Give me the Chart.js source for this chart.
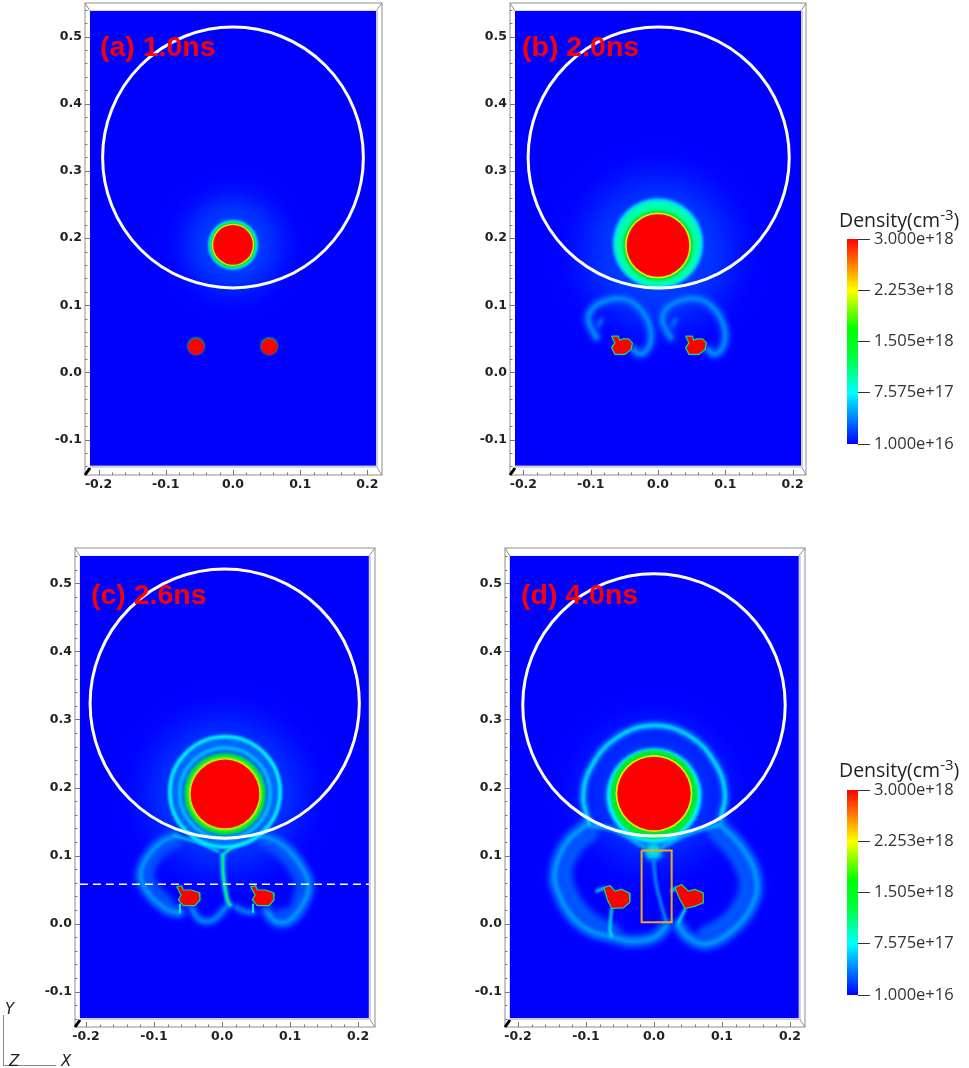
<!DOCTYPE html>
<html>
<head>
<meta charset="utf-8">
<style>
  body { margin: 0; background: #fff; }
  canvas { position: absolute; }
  .tag { position: absolute; color: #f00; font: bold 28.5px "Liberation Sans", sans-serif; white-space: nowrap; opacity: .97; }
  .cbt { position: absolute; left: 839px; color: #222; font: 19.5px "Open Sans", sans-serif; white-space: nowrap; }
  .cbt sup { font-size: 15px; line-height: 0; }
  .tri { position: absolute; color: #222; font: italic 15px "DejaVu Sans", sans-serif; }
</style>
</head>
<body>
<canvas id="panelA"></canvas>
<canvas id="panelB"></canvas>
<canvas id="panelC"></canvas>
<canvas id="panelD"></canvas>
<canvas id="barTop"></canvas>
<canvas id="barBottom"></canvas>
<div class="tag" style="left:100px;top:30px">(a) 1.0ns</div>
<div class="tag" style="left:522px;top:30px">(b) 2.0ns</div>
<div class="tag" style="left:91px;top:578px">(c) 2.6ns</div>
<div class="tag" style="left:521px;top:578px">(d) 4.0ns</div>
<div class="cbt" style="top:206px">Density(cm<sup>-3</sup>)</div>
<div class="cbt" style="top:756px">Density(cm<sup>-3</sup>)</div>
<div style="position:absolute;left:3px;top:1015px;width:52px;height:50px;border-left:1px solid #888;border-bottom:1px solid #888"></div>
<div class="tri" style="left:5px;top:1000px">Y</div>
<div class="tri" style="left:9px;top:1052px">Z</div>
<div class="tri" style="left:61px;top:1052px">X</div>

<script src="https://cdn.jsdelivr.net/npm/chart.js@4"></script>
<script>
// axis ticks
const xTicks = [-0.2, -0.1, 0, 0.1, 0.2];
const yTicks = [-0.1, 0, 0.1, 0.2, 0.3, 0.4, 0.5];

// colorbar
const barValues = [3.0e18, 2.253e18, 1.505e18, 7.575e17, 1.0e16];
const barLabels = ['3.000e+18', '2.253e+18', '1.505e+18', '7.575e+17', '1.000e+16'];

// white circles, in axis units
const circleA = [{ x: 0, y: 0.32, r: 0.194 }];
const circleB = [{ x: 0.001, y: 0.32, r: 0.194 }];
const circleC = [{ x: 0.004, y: 0.3235, r: 0.198 }];
const circleD = [{ x: 0, y: 0.3215, r: 0.193 }];

// (a) 1.0ns
const haloA = [{ x: 0, y: 0.19, r: 0.07 }];
const coreA = [{ x: 0, y: 0.19, r: 0.0295 }, { x: -0.055, y: 0.038, r: 0.012 }, { x: 0.054, y: 0.038, r: 0.012 }];
const greenA = [{ x: 0, y: 0.19, r: 0.0345 }, { x: -0.055, y: 0.039, r: 0.0125 }, { x: 0.054, y: 0.039, r: 0.0125 }];
const yellowA = [{ x: 0, y: 0.19, r: 0.0315 }];
const cyanA = [{ x: 0, y: 0.19, r: 0.037 }];

// (b) 2.0ns
const haloB = [{ x: 0, y: 0.18, r: 0.11 }];
const shellB = [{ x: 0, y: 0.192, r: 0.067 }];
const turquoiseB = [{ x: 0, y: 0.191, r: 0.063 }];
const greenB = [{ x: 0, y: 0.189, r: 0.0525 }];
const yellowB = [{ x: 0, y: 0.189, r: 0.049 }];
const coreB = [{ x: 0, y: 0.189, r: 0.0465 }];
const blobB1 = [[-0.069, 0.054], [-0.059, 0.054], [-0.057, 0.048], [-0.052, 0.05], [-0.044, 0.05], [-0.038, 0.044], [-0.04, 0.034], [-0.044, 0.031], [-0.049, 0.027], [-0.064, 0.027], [-0.069, 0.037], [-0.064, 0.044], [-0.069, 0.054]];
const blobB2 = [[0.041, 0.054], [0.051, 0.054], [0.053, 0.048], [0.058, 0.05], [0.066, 0.05], [0.072, 0.044], [0.07, 0.034], [0.066, 0.031], [0.061, 0.027], [0.046, 0.027], [0.041, 0.037], [0.046, 0.044], [0.041, 0.054]];
const wingB1 = [[-0.0912, 0.0516], [-0.1036, 0.0789], [-0.0962, 0.0962], [-0.0764, 0.1072], [-0.0516, 0.1096], [-0.0292, 0.0977], [-0.0129, 0.0714], [-0.0109, 0.0467], [-0.0193, 0.0303], [-0.0292, 0.0278], [-0.0357, 0.0342]];
const wingB2 = [[0.0188, 0.0516], [0.0064, 0.0789], [0.0138, 0.0962], [0.0336, 0.1072], [0.0584, 0.1096], [0.0808, 0.0977], [0.0971, 0.0714], [0.0991, 0.0467], [0.0907, 0.0303], [0.0808, 0.0278], [0.0743, 0.0342]];
const flickB1 = [[-0.0888, 0.069], [-0.0838, 0.0789]];
const flickB2 = [[0.0212, 0.069], [0.0262, 0.0789]];

// (c) 2.6ns
const haloC = [{ x: 0.004, y: 0.19, r: 0.11 }];
const fillC = [{ x: 0.0044, y: 0.1935, r: 0.079 }];
const ringOuterC = [{ x: 0.0044, y: 0.1935, r: 0.081 }];
const ringInnerC = [{ x: 0.0044, y: 0.1915, r: 0.0665 }];
const greenC = [{ x: 0.0044, y: 0.1905, r: 0.06 }];
const yellowC = [{ x: 0.0044, y: 0.1905, r: 0.0535 }];
const coreC = [{ x: 0.0044, y: 0.1905, r: 0.0505 }];
const blobC1 = [[-0.0667, 0.0542], [-0.0593, 0.0552], [-0.0569, 0.0493], [-0.0446, 0.0493], [-0.0333, 0.0454], [-0.0324, 0.0346], [-0.0397, 0.0263], [-0.0569, 0.0263], [-0.0642, 0.0346], [-0.0603, 0.042], [-0.0667, 0.0542]];
const blobC2 = [[0.0421, 0.0542], [0.0495, 0.0552], [0.0519, 0.0493], [0.0642, 0.0493], [0.0755, 0.0454], [0.0764, 0.0346], [0.0691, 0.0263], [0.0519, 0.0263], [0.0446, 0.0346], [0.0485, 0.042], [0.0421, 0.0542]];
const wingC1 = [[-0.0618, 0.016], [-0.0765, 0.0189], [-0.0961, 0.0321], [-0.1132, 0.0518], [-0.1196, 0.0714], [-0.1108, 0.0959], [-0.0912, 0.1179], [-0.0691, 0.1292]];
const wingC2 = [[0.0657, 0.0174], [0.0804, 0.0027], [0.1, 0.0052], [0.1221, 0.0346], [0.127, 0.0591], [0.1098, 0.0934], [0.0853, 0.1179], [0.0559, 0.1302]];
const wingInnerC1 = [[-0.078, 0.026], [-0.092, 0.04], [-0.105, 0.056], [-0.11, 0.072], [-0.102, 0.094], [-0.085, 0.112], [-0.068, 0.122]];
const wingInnerC2 = [[0.088, 0.012], [0.105, 0.015], [0.115, 0.038], [0.118, 0.059], [0.102, 0.09], [0.08, 0.112], [0.06, 0.124]];
const edgeC1 = [[-0.0691, 0.1292], [-0.0324, 0.1179], [-0.0054, 0.1057]];
const edgeC2 = [[0.051, 0.1302], [0.0167, 0.113], [0.001, 0.1008]];
const stemC = [[0.001, 0.1008], [0.002, 0.0689], [0.0078, 0.0346], [0.0118, 0.0272]];
const hookC = [[-0.0446, 0.0223], [-0.0324, 0.0052], [-0.0127, 0.0052], [0.0069, 0.0248]];
const tailC1 = [[-0.0618, 0.028], [-0.0618, 0.016]];
const tailC2 = [[0.0191, 0.0248], [0.0338, 0.0175], [0.0474, 0.016]];
const tailC3 = [[0.0456, 0.028], [0.0456, 0.017]];
const dashC = [[-0.209, 0.0576], [0.216, 0.0576]];

// (d) 4.0ns
const haloD = [{ x: 0, y: 0.19, r: 0.1 }];
const cyanD = [{ x: 0, y: 0.188, r: 0.07 }];
const greenD = [{ x: 0, y: 0.191, r: 0.064 }, { x: 0, y: 0.185, r: 0.061 }];
const yellowD = [{ x: 0, y: 0.1912, r: 0.0565 }];
const coreD = [{ x: 0, y: 0.1912, r: 0.054 }];
const spotD = [{ x: -0.001, y: 0.106, r: 0.013 }];
const archD = [[-0.0951, 0.1456], [-0.104, 0.1873], [-0.0917, 0.2314], [-0.0549, 0.273], [-0.001, 0.2912], [0.0529, 0.2755], [0.0897, 0.2363], [0.1044, 0.1922], [0.098, 0.1529]];
const wingD1 = [[-0.0991, 0.1456], [-0.1285, 0.1186], [-0.1456, 0.0745], [-0.1383, 0.0402], [-0.1187, 0.0083], [-0.0917, -0.0113], [-0.0648, -0.0186], [-0.0353, -0.026], [-0.001, -0.0211], [0.0186, -0.0039]];
const wingD2 = [[0.097, 0.1456], [0.1313, 0.1088], [0.1509, 0.0647], [0.1436, 0.0255], [0.1166, -0.0088], [0.0774, -0.0299], [0.048, -0.0186], [0.0358, -0.0015]];
const wingInnerD1 = [[-0.094, 0.135], [-0.118, 0.112], [-0.133, 0.075], [-0.126, 0.045], [-0.109, 0.018], [-0.086, -0.002], [-0.062, -0.012]];
const wingInnerD2 = [[0.092, 0.135], [0.12, 0.104], [0.138, 0.064], [0.131, 0.03], [0.108, 0.001], [0.075, -0.018]];
const edgeD1 = [[-0.0991, 0.1456], [-0.0598, 0.1382], [-0.0157, 0.1137]];
const edgeD2 = [[0.097, 0.1456], [0.0529, 0.1333], [0.0137, 0.1137]];
const stemD = [[-0.001, 0.0941], [0.0029, 0.0598], [0.0113, 0.0255], [0.0186, 0.001]];
const tailD1 = [[-0.0623, 0.0206], [-0.0648, -0.0088], [-0.0623, -0.0186]];
const tailD2 = [[0.0456, 0.0206], [0.0358, 0.001]];
const flickD1 = [[-0.0844, 0.0475], [-0.0721, 0.0525]];
const flickD2 = [[0.026, 0.0475], [0.032, 0.0525]];
const blobD1 = [[-0.0736, 0.0525], [-0.0648, 0.0559], [-0.0574, 0.0475], [-0.0476, 0.05], [-0.0363, 0.0451], [-0.0353, 0.0314], [-0.0451, 0.023], [-0.0623, 0.0221], [-0.0687, 0.0353], [-0.0736, 0.0525]];
const blobD2 = [[0.0308, 0.0525], [0.0406, 0.0574], [0.0505, 0.0475], [0.0603, 0.05], [0.0725, 0.0451], [0.0725, 0.0304], [0.0603, 0.0255], [0.0456, 0.0221], [0.0382, 0.0353], [0.0308, 0.0525]];
const boxD = [[-0.0182, 0.1074], [0.026, 0.1074], [0.026, 0.002], [-0.0182, 0.002], [-0.0182, 0.1074]];

const RED = '#ff0000', YELLOW = '#d8f000', GREEN = '#00e830', CYAN = '#00f0ff', WHITE = '#ffffff';

// radius in axis units turned into pixels through the x scale
function radius(ctx) {
    const s = ctx.chart.scales.x;
    return ctx.raw ? ctx.raw.r * s.width / (s.max - s.min) : 0;
}
function disc(points, color, blur) {
    return { data: points, pointRadius: radius, pointBackgroundColor: color, pointBorderWidth: 0, showLine: false, blur: blur || 0 };
}
function ring(points, color, width, blur) {
    return { data: points, pointRadius: radius, pointBackgroundColor: 'transparent', pointBorderColor: color, pointBorderWidth: width, showLine: false, blur: blur || 0 };
}
function toXY(points) {
    return points.map(p => ({ x: p[0], y: p[1] }));
}
function curve(points, color, width, blur) {
    return { data: toXY(points), showLine: true, tension: 0.4, pointRadius: 0, borderColor: color, borderWidth: width, borderCapStyle: 'round', blur: blur || 0 };
}
function band(points, width) {
    return [curve(points, 'rgb(0,70,255)', width * 1.5, 3), curve(points, 'rgb(0,105,255)', width, 2), curve(points, 'rgb(0,160,255)', width * 0.35, 1.5)];
}
function blob(points) {
    return { data: toXY(points), showLine: true, tension: 0, pointRadius: 0, fill: 'shape', backgroundColor: RED, borderColor: '#00e878', borderWidth: 1.2, blur: 0.3 };
}
function straight(points, color, width, dash) {
    return { data: toXY(points), showLine: true, tension: 0, pointRadius: 0, borderColor: color, borderWidth: width, borderDash: dash || [] };
}

// soft edges of the density field
const blurPlugin = {
    id: 'softEdges',
    beforeDatasetDraw(chart, args) {
        const b = chart.data.datasets[args.index].blur;
        chart.ctx.save();
        if (b) chart.ctx.filter = 'blur(' + b + 'px)';
    },
    afterDatasetDraw(chart) { chart.ctx.restore(); }
};

// VisIt style box: frame, corner lines, ticks, blue domain
const framePlugin = {
    id: 'boxFrame',
    beforeDatasetsDraw(chart, args, opts) {
        const { ctx, chartArea: a, scales: { x, y } } = chart;
        const d = opts.domain;
        const l = x.getPixelForValue(d[0]), r = x.getPixelForValue(d[1]);
        const t = y.getPixelForValue(d[3]), b = y.getPixelForValue(d[2]);
        ctx.save();
        ctx.fillStyle = '#0000ff';
        ctx.fillRect(l, t, r - l, b - t);
        ctx.strokeStyle = '#8e8e8e';
        ctx.lineWidth = 1;
        ctx.strokeRect(a.left, a.top, a.width, a.height);
        ctx.beginPath();
        ctx.moveTo(a.left, a.top); ctx.lineTo(l, t);
        ctx.moveTo(a.right, a.top); ctx.lineTo(r, t);
        ctx.moveTo(a.right, a.bottom); ctx.lineTo(r, b);
        ctx.stroke();
        ctx.strokeStyle = '#cfcfcf';
        ctx.lineWidth = 2;
        ctx.beginPath();
        ctx.moveTo(r + 1, t); ctx.lineTo(r + 1, b + 1); ctx.lineTo(l, b + 1);
        ctx.stroke();
        ctx.strokeStyle = '#777';
        ctx.lineWidth = 1;
        ctx.beginPath();
        for (let v = -0.2; v < 0.201; v += 0.02) {
            const px = Math.round(x.getPixelForValue(v)) + 0.5;
            const len = Math.abs(v * 10 - Math.round(v * 10)) < 0.01 ? 5 : 2.5;
            ctx.moveTo(px, a.bottom); ctx.lineTo(px, a.bottom - len);
        }
        for (let v = -0.14; v < 0.541; v += 0.02) {
            const py = Math.round(y.getPixelForValue(v)) + 0.5;
            const len = Math.abs(v * 10 - Math.round(v * 10)) < 0.01 ? 5 : 2.5;
            ctx.moveTo(a.left, py); ctx.lineTo(a.left + len, py);
        }
        ctx.stroke();
        ctx.strokeStyle = '#000';
        ctx.lineWidth = 3;
        ctx.beginPath();
        ctx.moveTo(a.left, a.bottom); ctx.lineTo(a.left + 5, a.bottom - 7);
        ctx.stroke();
        ctx.restore();
    }
};

function tickFont() {
    return { family: '"DejaVu Sans", sans-serif', weight: 'bold', size: 12.5 };
}

// box = [left, top, right, bottom] of the frame on the page
function drawPanel(id, box, xRange, yRange, domain, layers) {
    const AXIS_W = 45, AXIS_H = 30, PAD = 2;
    const canvas = document.getElementById(id);
    canvas.width = box[2] - box[0] + AXIS_W + PAD;
    canvas.height = box[3] - box[1] + AXIS_H + PAD;
    canvas.style.left = (box[0] - AXIS_W) + 'px';
    canvas.style.top = (box[1] - PAD) + 'px';
    new Chart(canvas, {
        type: 'scatter',
        data: { datasets: layers.flat().reverse() },
        options: {
            responsive: false,
            animation: false,
            events: [],
            layout: { padding: { top: PAD, right: PAD, left: 0, bottom: 0 } },
            plugins: { legend: { display: false }, tooltip: { enabled: false }, boxFrame: { domain: domain } },
            scales: {
                x: {
                    type: 'linear', min: xRange[0], max: xRange[1],
                    grid: { display: false, drawTicks: false }, border: { display: false },
                    afterBuildTicks: ax => { ax.ticks = xTicks.map(v => ({ value: v })); },
                    afterFit: ax => { ax.height = AXIS_H; ax.paddingLeft = 0; ax.paddingRight = 0; },
                    ticks: { color: '#222', font: tickFont(), padding: 2, maxRotation: 0, autoSkip: false, callback: v => v.toFixed(1) }
                },
                y: {
                    type: 'linear', min: yRange[0], max: yRange[1],
                    grid: { display: false, drawTicks: false }, border: { display: false },
                    afterBuildTicks: ax => { ax.ticks = yTicks.map(v => ({ value: v })); },
                    afterFit: ax => { ax.width = AXIS_W; ax.paddingTop = 0; ax.paddingBottom = 0; },
                    ticks: { color: '#222', font: tickFont(), padding: 3, autoSkip: false, callback: v => v.toFixed(1) }
                }
            }
        },
        plugins: [blurPlugin, framePlugin]
    });
}

function drawColorbar(id, top) {
    const canvas = document.getElementById(id);
    canvas.width = 122;
    canvas.height = 240;
    canvas.style.left = '847px';
    canvas.style.top = (top - 10) + 'px';
    new Chart(canvas, {
        type: 'bar',
        data: {
            labels: [''],
            datasets: [{
                data: [[barValues[4], barValues[0]]],
                barPercentage: 1,
                categoryPercentage: 1,
                backgroundColor: ctx => {
                    const a = ctx.chart.chartArea;
                    if (!a) return '#0000ff';
                    const g = ctx.chart.ctx.createLinearGradient(0, a.bottom, 0, a.top);
                    g.addColorStop(0, '#0000ff');
                    g.addColorStop(0.25, '#00ffff');
                    g.addColorStop(0.42, '#00ff40');
                    g.addColorStop(0.56, '#00ff00');
                    g.addColorStop(0.75, '#ffff00');
                    g.addColorStop(1, '#ff0000');
                    return g;
                }
            }]
        },
        options: {
            responsive: false,
            animation: false,
            events: [],
            layout: { padding: { top: 10, bottom: 25 } },
            plugins: { legend: { display: false }, tooltip: { enabled: false } },
            scales: {
                x: { display: false },
                y: {
                    position: 'right', min: barValues[4], max: barValues[0],
                    border: { display: false },
                    grid: { drawOnChartArea: false, tickLength: 12, tickColor: '#333' },
                    afterBuildTicks: ax => { ax.ticks = barValues.map(v => ({ value: v })); },
                    afterFit: ax => { ax.width = 111; ax.paddingTop = 0; ax.paddingBottom = 0; },
                    ticks: {
                        color: '#333', autoSkip: false, padding: 4,
                        font: { family: '"Open Sans", sans-serif', size: 16.5 },
                        callback: v => barLabels[barValues.indexOf(v)]
                    }
                }
            }
        }
    });
}

drawPanel('panelA', [85, 3, 382, 475], [-0.2202, 0.2217], [-0.1527, 0.55], [-0.2128, 0.2128, -0.139, 0.5383], [
    disc(haloA, 'rgba(0,80,255,.8)', 14),
    disc(cyanA, CYAN, 1), disc(greenA, GREEN, 0.8), disc(yellowA, YELLOW, 0.6), disc(coreA, RED, 0.4),
    ring(circleA, WHITE, 3)
]);

drawPanel('panelB', [510, 3, 806, 475], [-0.2199, 0.2199], [-0.1527, 0.55], [-0.2125, 0.2125, -0.139, 0.5383], [
    disc(haloB, 'rgba(0,75,255,.8)', 18),
    disc(shellB, 'rgb(0,220,255)', 1.5), disc(turquoiseB, 'rgb(0,255,170)', 1.5),
    disc(greenB, GREEN, 0.8), disc(yellowB, YELLOW, 0.6), disc(coreB, RED, 0.4),
    band(wingB1, 6), band(wingB2, 6), band(flickB1, 3), band(flickB2, 3),
    blob(blobB1), blob(blobB2),
    ring(circleB, WHITE, 3)
]);

drawPanel('panelC', [75, 548, 375, 1027], [-0.2162, 0.225], [-0.1522, 0.5522], [-0.209, 0.216, -0.139, 0.5405], [
    disc(haloC, 'rgba(0,75,255,.8)', 18),
    curve(wingInnerC1, 'rgb(0,85,255)', 14, 3), curve(wingInnerC2, 'rgb(0,85,255)', 14, 3),
    band(wingC1, 8), band(wingC2, 8), band(hookC, 5), band(tailC2, 4),
    curve(edgeC1, 'rgb(0,190,255)', 3, 1.2), curve(edgeC2, 'rgb(0,240,170)', 3, 1),
    disc(fillC, 'rgb(0,105,255)', 1.5),
    ring(ringOuterC, CYAN, 4, 1.2), ring(ringInnerC, 'rgb(0,185,255)', 3.5, 1.2),
    disc(greenC, GREEN, 1), disc(yellowC, YELLOW, 0.8), disc(coreC, RED, 0.4),
    curve(stemC, 'rgb(0,190,255)', 5, 1.2), curve(stemC, 'rgb(0,240,110)', 2, 0.6),
    curve(tailC1, CYAN, 2, 0.6), curve(tailC3, CYAN, 2, 0.6),
    blob(blobC1), blob(blobC2),
    ring(circleC, WHITE, 3),
    straight(dashC, WHITE, 1.5, [8, 5])
]);

drawPanel('panelD', [505, 548, 805, 1027], [-0.2191, 0.2221], [-0.1522, 0.5522], [-0.212, 0.213, -0.139, 0.5405], [
    disc(haloD, 'rgba(0,70,255,.8)', 18),
    curve(wingInnerD1, 'rgb(0,90,255)', 18, 3), curve(wingInnerD2, 'rgb(0,90,255)', 18, 3),
    band(wingD1, 9), band(wingD2, 9),
    curve(edgeD1, 'rgb(0,170,255)', 5, 1.5), curve(edgeD2, 'rgb(0,170,255)', 5, 1.5),
    curve(archD, 'rgb(0,120,255)', 8, 2), curve(archD, 'rgb(0,215,255)', 3.5, 1),
    disc(spotD, 'rgb(0,225,230)', 2.5),
    curve(stemD, 'rgb(0,130,255)', 3.5, 1),
    disc(cyanD, CYAN, 1.5), disc(greenD, GREEN, 1), disc(yellowD, YELLOW, 0.6), disc(coreD, RED, 0.4),
    curve(tailD1, 'rgb(0,225,240)', 3, 0.8), curve(tailD2, 'rgb(0,225,240)', 3, 0.8),
    curve(flickD1, 'rgb(0,210,255)', 3, 0.8), curve(flickD2, 'rgb(0,210,255)', 3, 0.8),
    blob(blobD1), blob(blobD2),
    ring(circleD, WHITE, 3),
    straight(boxD, '#f0a818', 2)
]);

drawColorbar('barTop', 239);
drawColorbar('barBottom', 790);
</script>
</body>
</html>
